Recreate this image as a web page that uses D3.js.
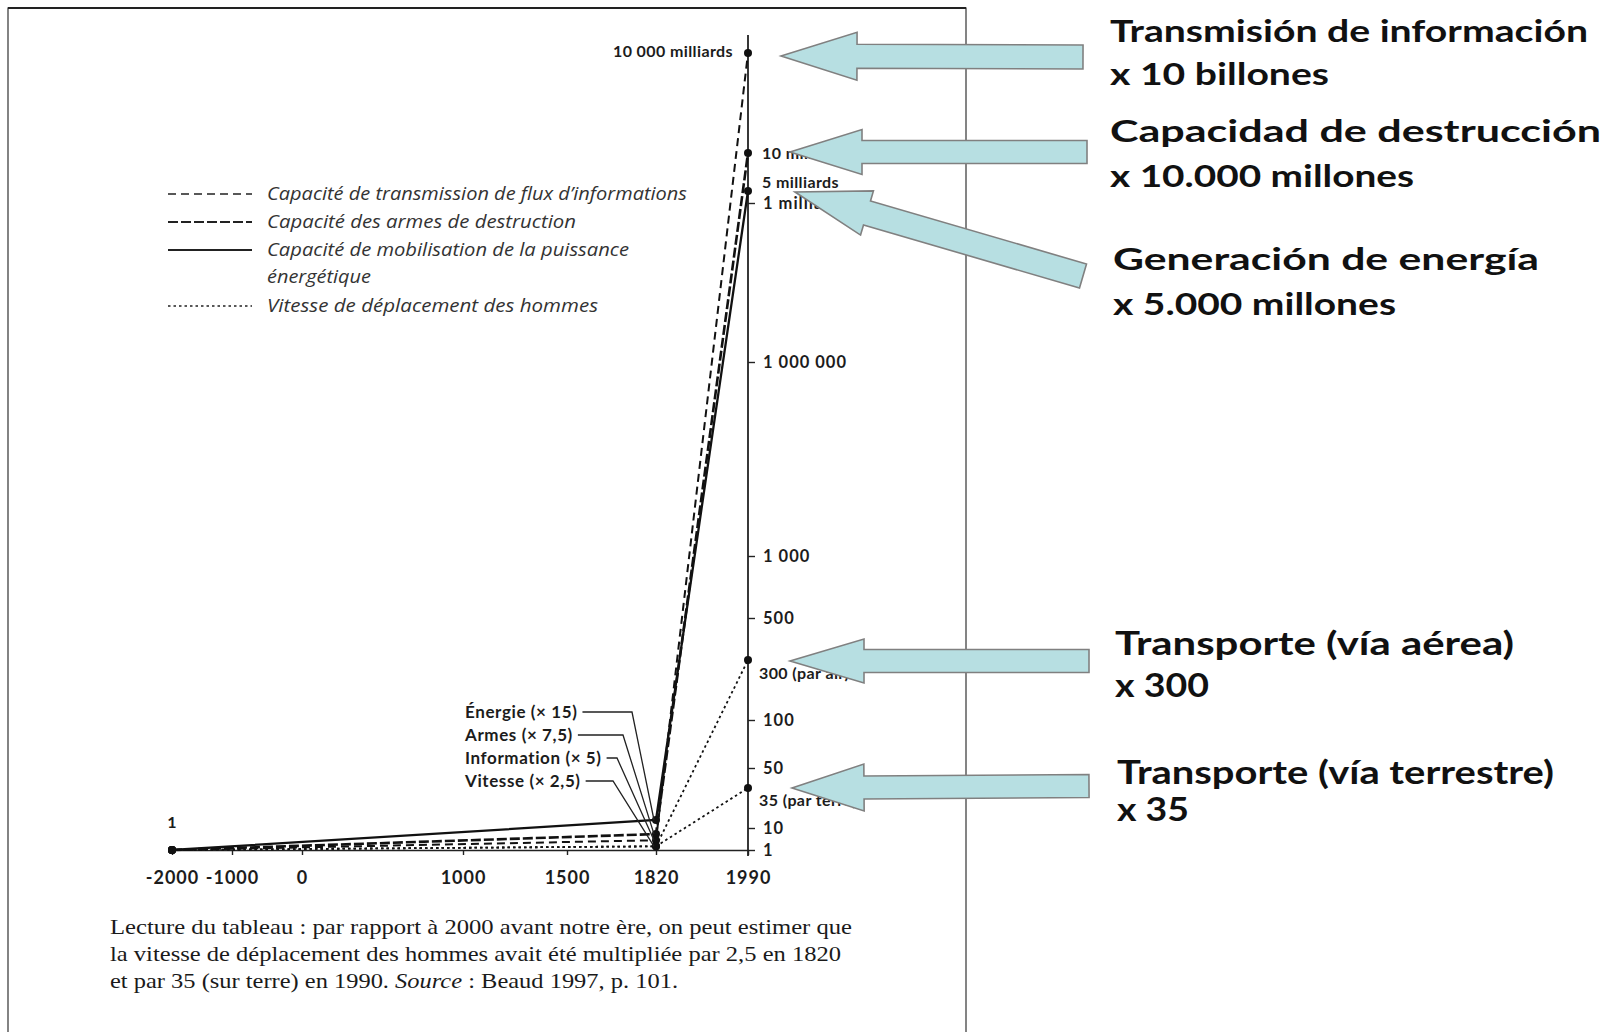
<!DOCTYPE html>
<html>
<head>
<meta charset="utf-8">
<script src="https://cdn.jsdelivr.net/npm/d3@7"></script>
<style>
body { margin: 0; background: #fff; }
svg { display: block; }
.axis text { font-family: Lato, "DejaVu Sans", sans-serif; font-weight: 700; fill: #1c1c1c; }
.axis line { stroke: #222; stroke-width: 1.4; }
</style>
</head>
<body>
<div id="chart"></div>
<script>
// --- data (Beaud 1997) ---
const years = [-2000, 1820, 1990]
const information = [1, 5, 1e13]
const armes = [1, 7.5, 1e10]
const energie = [1, 15, 5e9]
const vitesseAir = [1, 2.5, 300]
const vitesseTerre = [1, 2.5, 35]

const xTicks = [-2000, -1000, 0, 1000, 1500, 1820, 1990]
const yTicks = [1, 10, 50, 100, 500, 1000, 1e6, 1e9]
const yTickLabels = ["1", "10", "50", "100", "500", "1 000", "1 000 000", "1 milliard"]

const legendNames = [
    "Capacité de transmission de flux d’informations",
    "Capacité des armes de destruction",
    "Capacité de mobilisation de la puissance|énergétique",
    "Vitesse de déplacement des hommes"
]
const calloutNames = ["Énergie (× 15)", "Armes (× 7,5)", "Information (× 5)", "Vitesse (× 2,5)"]
const calloutValues = [15, 7.5, 5, 2.5]

const arrowTitles = ["Transmisión de información", "Capacidad de destrucción", "Generación de energía",
    "Transporte (vía aérea)", "Transporte (vía terrestre)"]
const arrowFactors = ["x 10 billones", "x 10.000 millones", "x 5.000 millones", "x 300", "x 35"]
const arrowValues = [1e13, 1e10, 5e9, 300, 35]

const captionLines = [
    "Lecture du tableau  : par rapport à 2000 avant notre ère, on peut estimer que",
    "la vitesse de déplacement des hommes avait été multipliée par 2,5 en 1820",
    "et par 35 (sur terre) en 1990. |Source| : Beaud 1997, p. 101."
]

const width = 1612, height = 1032

// the original axes are hand-drawn and not proportional, so both scales are piecewise
const xScale = d3.scaleLinear()
    .domain(xTicks)
    .range([172, 232, 302, 463, 567, 656, 748])
const yScale = d3.scaleLinear()
    .domain([1, 10, 35, 50, 100, 300, 500, 1000, 1e6, 1e9, 5e9, 1e10, 1e13])
    .range([850, 828, 788, 768, 720, 660, 618, 556, 362, 203, 191, 153, 53])

const svg = d3.select("#chart")
    .append("svg")
    .attr("width", width)
    .attr("height", height)
    .attr("viewBox", [0, 0, width, height])

// page frame of the scan
svg.append("rect")
    .attr("x", 8).attr("y", 8)
    .attr("width", 958).attr("height", 1040)
    .attr("fill", "none")
    .attr("stroke", "#333")
    .attr("stroke-width", 1.2)
svg.append("line")
    .attr("x1", 8).attr("x2", 966).attr("y1", 8).attr("y2", 8)
    .attr("stroke", "#222").attr("stroke-width", 2.2)

// axes
const xaxis = d3.axisBottom(xScale)
    .tickValues(xTicks)
    .tickSize(5)
    .tickSizeOuter(0)
    .tickPadding(16)
    .tickFormat(d => d)

svg.append("g")
    .attr("class", "axis")
    .attr("transform", `translate(0,${yScale(1)})`)
    .call(xaxis)
    .call(g => g.select(".domain").attr("stroke", "#222").attr("stroke-width", 1.6))
    .selectAll("text")
    .style("font-size", "18px")
    .style("letter-spacing", "1px")

const yaxis = d3.axisRight(yScale)
    .tickValues(yTicks)
    .tickSize(7)
    .tickPadding(8)
    .tickFormat((d, i) => yTickLabels[i])

svg.append("g")
    .attr("class", "axis")
    .attr("transform", `translate(${xScale(1990)},0)`)
    .call(yaxis)
    .call(g => g.select(".domain").remove())
    .selectAll("text")
    .style("font-size", "16.5px")
    .style("letter-spacing", "1px")

svg.append("line")
    .attr("x1", xScale(1990)).attr("x2", xScale(1990))
    .attr("y1", yScale(1) + 6).attr("y2", 35)
    .attr("stroke", "#222").attr("stroke-width", 1.8)

// extra labels along the vertical axis
const valueLabels = [
    { text: "10 000 milliards", v: 1e13, dx: -15, dy: -2, anchor: "end" },
    { text: "10 milliards", v: 1e10, dx: 14, dy: 0, anchor: "start" },
    { text: "5 milliards", v: 5e9, dx: 14, dy: -9, anchor: "start" },
    { text: "300 (par air)", v: 300, dx: 11, dy: 13, anchor: "start" },
    { text: "35 (par terre)", v: 35, dx: 11, dy: 12, anchor: "start" }
]
svg.selectAll(".vlabel")
    .data(valueLabels)
    .enter().append("text")
    .attr("class", "vlabel")
    .attr("x", d => xScale(1990) + d.dx)
    .attr("y", d => yScale(d.v) + d.dy)
    .attr("dy", "0.35em")
    .attr("text-anchor", d => d.anchor)
    .style("font-family", "Lato, sans-serif")
    .style("font-weight", 700)
    .style("font-size", "16px")
    .style("letter-spacing", "0.4px")
    .style("fill", "#1c1c1c")
    .text(d => d.text)

svg.append("text")
    .attr("x", xScale(-2000))
    .attr("y", yScale(1) - 28)
    .attr("text-anchor", "middle")
    .attr("dy", "0.35em")
    .style("font-family", "Lato, sans-serif")
    .style("font-weight", 700)
    .style("font-size", "16px")
    .style("fill", "#1c1c1c")
    .text("1")

// series lines
const lineStyles = [
    { values: information, dash: "8,5", w: 2 },
    { values: armes, dash: "10,3", w: 2.6 },
    { values: energie, dash: null, w: 2.3 },
    { values: vitesseAir, dash: "2.5,3", w: 1.8 },
    { values: vitesseTerre, dash: "2.5,3", w: 1.8 }
]
const line = d3.line()
    .x((d, i) => xScale(years[i]))
    .y(d => yScale(d))

svg.selectAll(".series")
    .data(lineStyles)
    .enter().append("path")
    .attr("class", "series")
    .attr("d", d => line(d.values))
    .attr("fill", "none")
    .attr("stroke", "#111")
    .attr("stroke-width", d => d.w)
    .attr("stroke-dasharray", d => d.dash)

// dots
const dots = []
lineStyles.forEach(s => s.values.forEach((v, i) => dots.push({ year: years[i], v: v })))
svg.selectAll(".dot")
    .data(dots)
    .enter().append("circle")
    .attr("class", "dot")
    .attr("cx", d => xScale(d.year))
    .attr("cy", d => yScale(d.v))
    .attr("r", 4)
    .attr("fill", "#111")

// legend
const legend = svg.append("g").attr("transform", "translate(168,194)")
const legendRows = [0, 28, 56, 112]
const legendWidths = [420, 309, 362, 331]
legendNames.forEach((name, i) => {
    const s = lineStyles[i]
    legend.append("line")
        .attr("x1", 0).attr("x2", 84)
        .attr("y1", legendRows[i]).attr("y2", legendRows[i])
        .attr("stroke", "#222")
        .attr("stroke-width", s.w * 0.8)
        .attr("stroke-dasharray", s.dash)
    name.split("|").forEach((part, j) => {
        legend.append("text")
            .attr("x", 99)
            .attr("y", legendRows[i] + j * 27)
            .attr("dy", "0.35em")
            .attr("textLength", j === 0 ? legendWidths[i] : 104)
            .attr("lengthAdjust", "spacingAndGlyphs")
            .style("font-family", "'Open Sans', sans-serif")
            .style("font-style", "italic")
            .style("font-size", "18px")
            .style("fill", "#333")
            .text(part)
    })
})

// callouts pointing at the 1820 values
const calloutRows = [712, 735, 758, 781]
const elbowOffsets = [-24, -33, -39, -43]
calloutNames.forEach((name, i) => {
    const t = svg.append("text")
        .attr("x", 465)
        .attr("y", calloutRows[i])
        .attr("dy", "0.35em")
        .style("font-family", "Lato, sans-serif")
        .style("font-weight", 700)
        .style("font-size", "17px")
        .style("letter-spacing", "0.6px")
        .style("fill", "#1c1c1c")
        .text(name)
    const end = 465 + t.node().getComputedTextLength() + 5
    const ex = xScale(1820) + elbowOffsets[i]
    svg.append("path")
        .attr("d", `M${end},${calloutRows[i]}H${ex}L${xScale(1820) - 2},${yScale(calloutValues[i])}`)
        .attr("fill", "none")
        .attr("stroke", "#222")
        .attr("stroke-width", 1.3)
})

// caption under the chart
const captionSizes = [742, 731, 568]
captionLines.forEach((ln, i) => {
    const t = svg.append("text")
        .attr("x", 110)
        .attr("y", 934 + i * 27)
        .attr("textLength", captionSizes[i])
        .attr("lengthAdjust", "spacingAndGlyphs")
        .style("font-family", "'Liberation Serif', serif")
        .style("font-size", "21px")
        .style("fill", "#1a1a1a")
    ln.split("|").forEach((part, j) => {
        t.append("tspan")
            .style("font-style", j === 1 ? "italic" : "normal")
            .text(part)
    })
})

// big arrows and Spanish annotations
const arrowSpecs = [
    { gap: 33, dy: 3, tail: [1083, 57], head: 76, hh: 24, sh: 12 },
    { gap: 42, dy: -1, tail: [1087, 152], head: 72, hh: 22.5, sh: 11.5 },
    { gap: 47, dy: 1, tail: [1083, 276], head: 75, hh: 23, sh: 12.5 },
    { gap: 42, dy: 1, tail: [1089, 661], head: 74, hh: 22, sh: 11.5 },
    { gap: 44, dy: 0, tail: [1089, 786], head: 72, hh: 23.5, sh: 11.5 }
]

function arrowPoints(tip, tail, headLen, headHalf, shaftHalf) {
    const dx = tail[0] - tip[0], dy = tail[1] - tip[1]
    const L = Math.hypot(dx, dy)
    const ux = dx / L, uy = dy / L
    const nx = -uy, ny = ux
    const hb = [tip[0] + ux * headLen, tip[1] + uy * headLen]
    return [
        tip,
        [hb[0] + nx * headHalf, hb[1] + ny * headHalf],
        [hb[0] + nx * shaftHalf, hb[1] + ny * shaftHalf],
        [tail[0] + nx * shaftHalf, tail[1] + ny * shaftHalf],
        [tail[0] - nx * shaftHalf, tail[1] - ny * shaftHalf],
        [hb[0] - nx * shaftHalf, hb[1] - ny * shaftHalf],
        [hb[0] - nx * headHalf, hb[1] - ny * headHalf]
    ]
}

svg.selectAll(".arrow")
    .data(arrowSpecs)
    .enter().append("polygon")
    .attr("class", "arrow")
    .attr("points", (d, i) => {
        const tip = [xScale(1990) + d.gap, yScale(arrowValues[i]) + d.dy]
        return arrowPoints(tip, d.tail, d.head, d.hh, d.sh).join(" ")
    })
    .attr("fill", "#b7dfe2")
    .attr("stroke", "#808080")
    .attr("stroke-width", 1.6)
    .attr("stroke-linejoin", "miter")

const noteRows = [[42, 85], [142, 187], [270, 315], [655, 697], [784, 821]]
const noteX = [1110, 1110, 1113, 1115, 1117]
const noteWidths = [[478, 219], [491, 304], [426, 283], [399, 94], [437, 72]]
arrowTitles.forEach((title, i) => {
    [title, arrowFactors[i]].forEach((txt, j) => {
        svg.append("text")
            .attr("x", noteX[i])
            .attr("y", noteRows[i][j])
            .attr("textLength", noteWidths[i][j])
            .attr("lengthAdjust", "spacingAndGlyphs")
            .style("font-family", "Lato, sans-serif")
            .style("font-weight", 700)
            .style("font-size", i >= 3 ? "33px" : "31px")
            .style("fill", "#111")
            .text(txt)
    })
})
</script>
</body>
</html>
